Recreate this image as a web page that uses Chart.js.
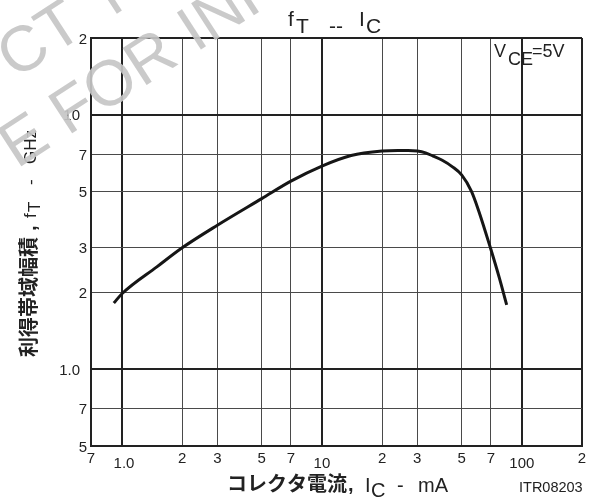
<!DOCTYPE html>
<html>
<head>
<meta charset="utf-8">
<script src="https://cdn.jsdelivr.net/npm/chart.js@4.4.1/dist/chart.umd.min.js"></script>
<style>
  html, body { margin: 0; padding: 0; background: #fff; }
  #wrap { width: 594px; height: 499px; }
</style>
</head>
<body>
<div id="wrap"><canvas id="c" width="594" height="499"></canvas></div>
<script>
// Collector current IC (mA) and gain-bandwidth product fT (GHz), VCE = 5 V
const collectorCurrent = [0.91, 1.0, 1.5, 2, 3, 5, 7, 10, 14, 20, 24, 27, 30, 33, 36, 40, 45, 50, 56, 61, 70, 77, 84];
const gainBandwidth    = [1.82, 1.98, 2.53, 3.0, 3.68, 4.68, 5.48, 6.28, 6.91, 7.2, 7.24, 7.24, 7.2, 7.08, 6.88, 6.62, 6.24, 5.8, 5.0, 4.17, 2.96, 2.3, 1.79];

// Grid positions and the labels printed under / beside them
const xGridValues = [0.7, 1, 2, 3, 5, 7, 10, 20, 30, 50, 70, 100, 200];
const xTickLabels = ['7', '1.0', '2', '3', '5', '7', '10', '2', '3', '5', '7', '100', '2'];
const yGridValues = [0.5, 0.7, 1, 2, 3, 5, 7, 10, 20];
const yTickLabels = ['5', '7', '1.0', '2', '3', '5', '7', '10', '2'];

const LATIN = '"Liberation Sans", Arial, sans-serif';
const CJK = '"Noto Sans CJK JP", sans-serif';

const isDecade = v => Math.abs(Math.log10(v) - Math.round(Math.log10(v))) < 1e-9;

function gridWidth(scale, v) {
  if (isDecade(v) || v === scale.min || v === scale.max) return 2;
  return 1;
}
function gridColor(scale, v) {
  if (isDecade(v) || v === scale.min || v === scale.max) return '#222';
  return '#4a4a4a';
}

// Draws a sequence of text runs along one baseline; each run has its own offset along it
function drawRuns(ctx, x, y, angle, runs) {
  ctx.save();
  ctx.translate(x, y);
  ctx.rotate(angle);
  ctx.textAlign = 'left';
  ctx.textBaseline = 'alphabetic';
  for (const r of runs) {
    ctx.font = r.font;
    ctx.fillText(r.text, r.at, r.dy || 0);
  }
  ctx.restore();
}

const annotate = {
  id: 'annotate',
  afterDraw(chart) {
    const { ctx, chartArea: area, scales: { x, y } } = chart;
    ctx.save();
    ctx.fillStyle = '#222';

    // tick labels
    ctx.font = '15px ' + LATIN;
    ctx.textAlign = 'center';
    ctx.textBaseline = 'middle';
    xGridValues.forEach((v, i) => {
      const dec = isDecade(v);
      const px = x.getPixelForValue(v) + (xTickLabels[i] === '1.0' ? 2 : 0);
      ctx.fillText(xTickLabels[i], px, area.bottom + (dec ? 18 : 13));
    });
    ctx.textAlign = 'right';
    yGridValues.forEach((v, i) => {
      const dec = isDecade(v);
      ctx.fillText(yTickLabels[i], area.left - (dec ? 11 : 4), y.getPixelForValue(v) + 1.5);
    });

    // chart title: fT -- IC
    const tFont = '21px ' + LATIN;
    drawRuns(ctx, 0, 26, 0, [
      { text: 'f', font: tFont, at: 288 },
      { text: 'T', font: tFont, at: 296, dy: 7 },
      { text: '--', font: tFont, at: 329, dy: 7 },
      { text: 'I', font: tFont, at: 359 },
      { text: 'C', font: tFont, at: 366, dy: 7 }
    ]);

    // condition label
    const cFont = '18px ' + LATIN;
    drawRuns(ctx, 0, 57, 0, [
      { text: 'V', font: cFont, at: 494 },
      { text: 'CE', font: cFont, at: 508, dy: 8 },
      { text: '=5V', font: cFont, at: 532 }
    ]);

    // x-axis title
    const jFont = 'bold 20px ' + CJK;
    const aFont = '20px ' + LATIN;
    drawRuns(ctx, 0, 491, 0, [
      { text: 'コレクタ電流', font: jFont, at: 227 },
      { text: ',', font: 'bold 20px ' + LATIN, at: 348 },
      { text: 'I', font: aFont, at: 365, dy: 1 },
      { text: 'C', font: aFont, at: 371, dy: 6 },
      { text: '-', font: aFont, at: 397, dy: 1 },
      { text: 'mA', font: aFont, at: 418, dy: 1 }
    ]);

    // y-axis title, reading bottom to top
    const gFont = '17px ' + LATIN;
    drawRuns(ctx, 36, 357, -Math.PI / 2, [
      { text: '利得帯域幅積', font: jFont, at: 0 },
      { text: ',', font: 'bold 20px ' + LATIN, at: 126 },
      { text: 'f', font: gFont, at: 139 },
      { text: 'T', font: gFont, at: 145, dy: 4 },
      { text: '-', font: gFont, at: 172 },
      { text: 'GHz', font: gFont, at: 193 }
    ]);

    // drawing number
    ctx.font = '14.5px ' + LATIN;
    ctx.textAlign = 'left';
    ctx.textBaseline = 'alphabetic';
    ctx.fillText('ITR08203', 519, 492);

    // faint stamp across the upper-left corner
    ctx.fillStyle = 'rgba(198,198,198,0.92)';
    const sFont = '64px ' + LATIN;
    const ang = -33 * Math.PI / 180;
    drawRuns(ctx, 15, 80, ang, [{ text: 'CT YOU', font: sFont, at: 0 }]);
    drawRuns(ctx, 17, 169, ang, [{ text: 'E FOR INF', font: sFont, at: 0 }]);

    ctx.restore();
  }
};

const points = collectorCurrent.map((ic, i) => ({ x: ic, y: gainBandwidth[i] }));

new Chart(document.getElementById('c'), {
  type: 'line',
  data: {
    datasets: [{
      data: points,
      borderColor: '#161616',
      borderWidth: 3,
      pointRadius: 0,
      fill: false,
      cubicInterpolationMode: 'monotone'
    }]
  },
  options: {
    responsive: false,
    animation: false,
    devicePixelRatio: 1,
    layout: { padding: { left: 91, top: 38, right: 12, bottom: 53 } },
    plugins: { legend: { display: false }, tooltip: { enabled: false }, title: { display: false } },
    scales: {
      x: {
        type: 'logarithmic',
        min: 0.7, max: 200,
        afterBuildTicks: s => { s.ticks = xGridValues.map(v => ({ value: v })); },
        ticks: { display: false },
        grid: {
          drawTicks: false,
          lineWidth: c => gridWidth(c.scale, c.tick.value),
          color: c => gridColor(c.scale, c.tick.value)
        },
        border: { display: true, color: '#222', width: 2 }
      },
      y: {
        type: 'logarithmic',
        min: 0.5, max: 20,
        afterBuildTicks: s => { s.ticks = yGridValues.map(v => ({ value: v })); },
        ticks: { display: false },
        grid: {
          drawTicks: false,
          lineWidth: c => gridWidth(c.scale, c.tick.value),
          color: c => gridColor(c.scale, c.tick.value)
        },
        border: { display: true, color: '#222', width: 2 }
      }
    }
  },
  plugins: [annotate]
});
</script>
</body>
</html>
